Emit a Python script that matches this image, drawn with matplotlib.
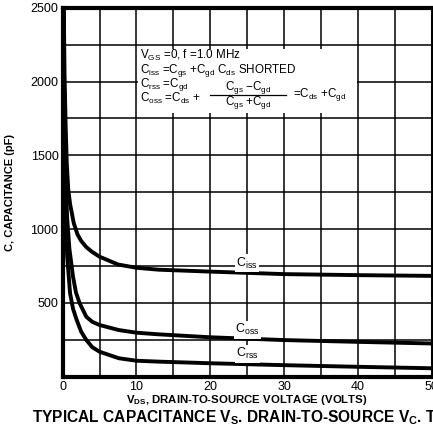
import matplotlib
matplotlib.use("Agg")
import matplotlib.pyplot as plt
from matplotlib.patches import Rectangle

plt.rcParams['font.family'] = ['Liberation Sans', 'DejaVu Sans']
plt.rcParams['mathtext.default'] = 'regular'

# values (VDS in volts, capacitance in pF)
vds_iss = [0.15, 0.25, 0.4, 0.55, 0.75, 1.0, 1.5, 2.0, 2.5, 3.2, 4.0, 5.0, 7.5, 10, 13, 20, 30, 40, 50]
c_iss = [2500, 2050, 1700, 1450, 1270, 1170, 1040, 965, 920, 878, 845, 813, 760, 738, 725, 712, 695, 688, 683]

vds_oss = [0.12, 0.2, 0.35, 0.6, 0.9, 1.4, 1.8, 2.3, 3.2, 4.0, 5.0, 7.6, 10, 13, 20, 30, 40, 50]
c_oss = [2500, 1800, 1400, 1080, 870, 677, 570, 497, 406, 372, 350, 316, 298, 287, 267, 248, 236, 225]

vds_rss = [0.1, 0.2, 0.35, 0.6, 1.0, 1.4, 1.9, 2.5, 3.2, 4.0, 5.0, 7.6, 10, 13, 20, 30, 40, 50]
c_rss = [2500, 1700, 1200, 820, 565, 460, 384, 305, 249, 200, 169, 125, 108, 102, 91, 78, 67, 57]

xticks = [0, 10, 20, 30, 40, 50]
yticks = [500, 1000, 1500, 2000, 2500]

fig = plt.figure(figsize=(4.33, 4.30), dpi=100)
ax = fig.add_axes([0.1448, 0.124, 0.852, 0.858])

ax.set_xlim(0, 50)
ax.set_ylim(0, 2500)
ax.set_xticks(range(0, 51, 5), minor=True)
ax.set_yticks(range(0, 2501, 250), minor=True)
ax.set_xticks(xticks)
ax.set_yticks(yticks)
ax.tick_params(which='both', length=0)
ax.tick_params(axis='x', pad=3, labelsize=9)
ax.tick_params(axis='y', pad=3, labelsize=9)
ax.grid(which='both', color='black', linewidth=1.1, zorder=0)
ax.set_axisbelow(True)
for side in ['left', 'top', 'bottom']:
    ax.spines[side].set_linewidth(3.0)
ax.spines['right'].set_linewidth(2.2)

lw = 2.8
ax.plot(vds_iss, c_iss, color='black', lw=lw, solid_joinstyle='round', solid_capstyle='round', zorder=3)
ax.plot(vds_oss, c_oss, color='black', lw=lw, solid_joinstyle='round', solid_capstyle='round', zorder=3)
ax.plot(vds_rss, c_rss, color='black', lw=lw, solid_joinstyle='round', solid_capstyle='round', zorder=3)

# curve labels
box = dict(facecolor='white', edgecolor='none', pad=1.0)
ax.text(25, 770, 'C$_{iss}$', fontsize=9, ha='center', va='center', bbox=box, zorder=4)
ax.text(25, 318, 'C$_{oss}$', fontsize=9, ha='center', va='center', bbox=box, zorder=4)
ax.text(25, 156, 'C$_{rss}$', fontsize=9, ha='center', va='center', bbox=box, zorder=4)

# conditions block
ax.add_patch(Rectangle((10.15, 1790), 29.7, 430, facecolor='white', edgecolor='none', zorder=2))
fs = 8.4
ax.text(10.5, 2175, 'V$_{GS}$ =0, f =1.0 MHz', fontsize=fs, va='center', zorder=4)
ax.text(10.5, 2075, 'C$_{iss}$ =C$_{gs}$ +C$_{gd}$ C$_{ds}$ SHORTED', fontsize=fs, va='center', zorder=4)
ax.text(10.5, 1983, 'C$_{rss}$ =C$_{gd}$', fontsize=fs, va='center', zorder=4)
ax.text(10.5, 1888, 'C$_{oss}$ =C$_{ds}$ +', fontsize=fs, va='center', zorder=4)
ax.text(25.1, 1958, 'C$_{gs}$ \u2212C$_{gd}$', fontsize=fs, ha='center', va='center', zorder=4)
ax.text(25.1, 1856, 'C$_{gs}$ +C$_{gd}$', fontsize=fs, ha='center', va='center', zorder=4)
ax.plot([19.9, 30.3], [1909, 1909], color='black', lw=0.9, zorder=4)
ax.text(31.2, 1909, '=C$_{ds}$ +C$_{gd}$', fontsize=fs, va='center', zorder=4)

ax.set_ylabel('C, CAPACITANCE (pF)', fontsize=8, fontweight='bold')
ax.yaxis.set_label_coords(-0.13, 0.5)
fig.text(0.571, 0.069, 'V$_{DS}$, DRAIN-TO-SOURCE VOLTAGE (VOLTS)', fontsize=8.2, fontweight='bold',
         ha='center', va='center')
fig.text(0.074, 0.029, 'TYPICAL CAPACITANCE V$_{S}$. DRAIN-TO-SOURCE V$_{C}$. T', fontsize=11.2,
         fontweight='bold', ha='left', va='center')

fig.savefig('out.png', dpi=100)
